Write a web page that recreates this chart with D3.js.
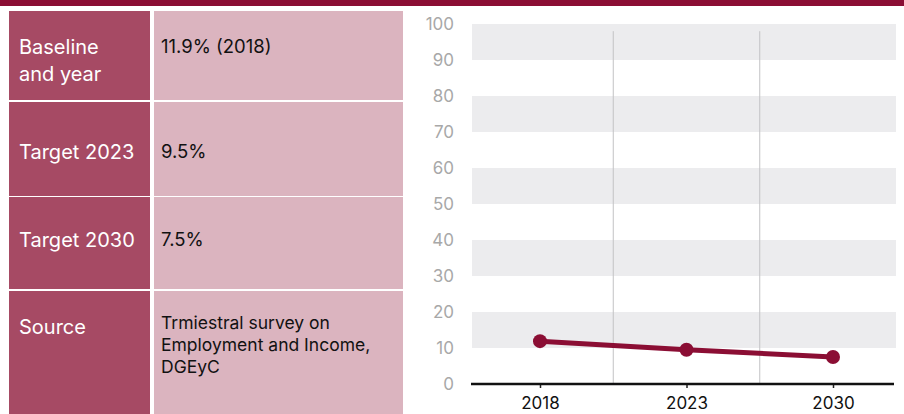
<!DOCTYPE html>
<html>
<head>
<meta charset="utf-8">
<script src="https://cdn.jsdelivr.net/npm/d3@7"></script>
<style>
  body { margin: 0; background: #fff; }
  svg { display: block; font-family: Inter, "Liberation Sans", sans-serif; }
</style>
</head>
<body>
<div id="chart"></div>
<script>
// Datos de la tabla
const rowLabels = [["Baseline", "and year"], ["Target 2023"], ["Target 2030"], ["Source"]];
const rowValues = [["11.9% (2018)"], ["9.5%"], ["7.5%"], ["Trmiestral survey on", "Employment and Income,", "DGEyC"]];

// Datos del gráfico
const years = ["2018", "2023", "2030"];
const values = [11.9, 9.5, 7.5];
const yTicks = [0, 10, 20, 30, 40, 50, 60, 70, 80, 90, 100];
const bands = [[10, 20], [30, 40], [50, 60], [70, 80], [90, 100]];

const width = 904, height = 414;
const dark = "#8b0e34";

const svg = d3.select("#chart").append("svg")
    .attr("width", width)
    .attr("height", height);

// Barra superior
svg.append("rect")
    .attr("x", 0).attr("y", 0)
    .attr("width", width).attr("height", 6)
    .attr("fill", dark);

// Tabla
const rowTops = [11, 102, 197, 291];
const rowBottoms = [100, 196, 289, 414];
const textTop = [47, 152, 240, 327]; // centro de la primera línea

const rows = svg.selectAll(".row")
    .data(rowLabels.map((l, i) => ({ label: l, value: rowValues[i], i })))
    .enter().append("g")
    .attr("class", "row");

rows.append("rect")
    .attr("x", 9).attr("y", d => rowTops[d.i])
    .attr("width", 141).attr("height", d => rowBottoms[d.i] - rowTops[d.i])
    .attr("fill", "#a64a64");

rows.append("rect")
    .attr("x", 154).attr("y", d => rowTops[d.i])
    .attr("width", 249).attr("height", d => rowBottoms[d.i] - rowTops[d.i])
    .attr("fill", "#dbb4bf");

rows.each(function(d) {
    const g = d3.select(this);
    d.label.forEach((t, k) => {
        g.append("text")
            .attr("x", 19)
            .attr("y", textTop[d.i] + k * 27)
            .attr("dy", "0.35em")
            .attr("fill", "#fff")
            .style("font-size", "20px")
            .text(t);
    });
    const multi = d.value.length > 1;
    d.value.forEach((t, k) => {
        g.append("text")
            .attr("x", 161)
            .attr("y", (multi ? textTop[d.i] - 4 : textTop[d.i]) + k * 22)
            .attr("dy", "0.35em")
            .attr("fill", "#111")
            .style("font-size", multi ? "17.5px" : "18.5px")
            .text(t);
    });
});

// Gráfico de línea
const plot = { left: 472, right: 896 };
const y = d3.scaleLinear().domain([0, 100]).range([384, 24]);
const x = d3.scalePoint().domain(years).range([540, 833]);

// Bandas grises
svg.selectAll(".band")
    .data(bands)
    .enter().append("rect")
    .attr("x", plot.left)
    .attr("y", d => y(d[1]))
    .attr("width", plot.right - plot.left)
    .attr("height", d => y(d[0]) - y(d[1]))
    .attr("fill", "#ececee");

// Líneas verticales entre años
const mids = d3.pairs(years).map(([a, b]) => (x(a) + x(b)) / 2);
svg.selectAll(".vline")
    .data(mids)
    .enter().append("line")
    .attr("x1", d => d).attr("x2", d => d)
    .attr("y1", y(98)).attr("y2", y(0))
    .attr("stroke", "#c2c2c4")
    .attr("stroke-width", 1);

// Eje Y
const yAxis = svg.append("g")
    .attr("transform", "translate(454,0)")
    .call(d3.axisLeft(y).tickValues(yTicks).tickSize(0).tickPadding(0));
yAxis.select(".domain").remove();
yAxis.selectAll("text")
    .attr("fill", "#a8a8a8")
    .style("font-size", "17px")
    .style("font-family", "Inter, sans-serif");

// Eje X
const xAxis = svg.append("g")
    .attr("transform", `translate(0,${y(0)})`)
    .call(d3.axisBottom(x).tickSize(4).tickPadding(9));
xAxis.select(".domain").remove();
xAxis.selectAll("line").attr("stroke", "#222").attr("stroke-width", 1.5);
xAxis.selectAll("text")
    .attr("fill", "#111")
    .style("font-size", "17px")
    .style("font-family", "Inter, sans-serif");

svg.append("line")
    .attr("x1", 471).attr("x2", 894)
    .attr("y1", y(0)).attr("y2", y(0))
    .attr("stroke", "#111")
    .attr("stroke-width", 2.5);

// Línea y puntos
const line = d3.line().x((d, i) => x(years[i])).y(d => y(d));
svg.append("path")
    .datum(values)
    .attr("d", line)
    .attr("fill", "none")
    .attr("stroke", dark)
    .attr("stroke-width", 5);

svg.selectAll(".dot")
    .data(values)
    .enter().append("circle")
    .attr("cx", (d, i) => x(years[i]))
    .attr("cy", d => y(d))
    .attr("r", 7)
    .attr("fill", dark);
</script>
</body>
</html>
